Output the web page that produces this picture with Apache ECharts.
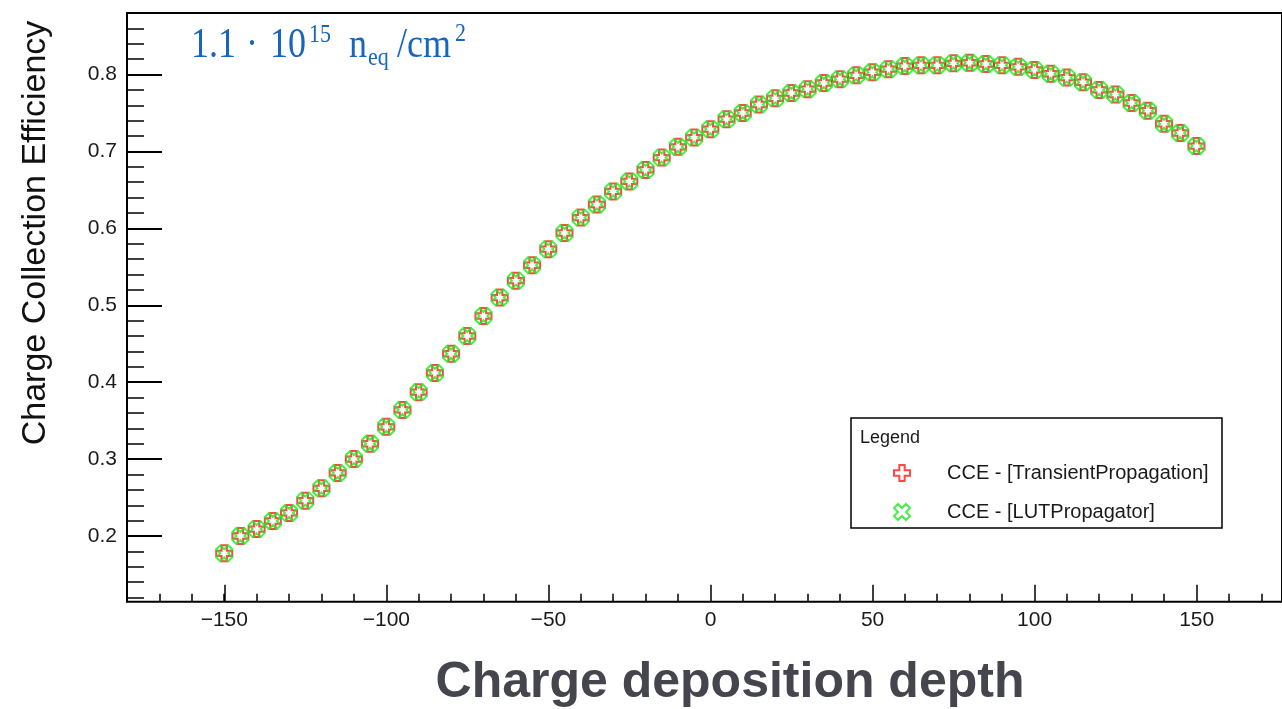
<!DOCTYPE html>
<html><head><meta charset="utf-8">
<script src="https://cdn.jsdelivr.net/npm/echarts@6/dist/echarts.min.js"></script>
<style>html,body{margin:0;padding:0;background:#fff}#c{width:1282px;height:709px}</style>
</head><body><div id="c"></div>
<script>
// ---- data ----
const depth = [-150,-145,-140,-135,-130,-125,-120,-115,-110,-105,-100,-95,-90,-85,-80,-75,-70,-65,-60,-55,-50,-45,-40,-35,-30,-25,-20,-15,-10,-5,0,5,10,15,20,25,30,35,40,45,50,55,60,65,70,75,80,85,90,95,100,105,110,115,120,125,130,135,140,145,150];
const cceTransient = [0.1775,0.200,0.209,0.2195,0.230,0.246,0.262,0.282,0.300,0.320,0.342,0.364,0.387,0.412,0.437,0.460,0.486,0.510,0.532,0.552,0.573,0.594,0.614,0.631,0.648,0.661,0.676,0.692,0.706,0.718,0.729,0.742,0.750,0.761,0.769,0.776,0.781,0.789,0.794,0.799,0.803,0.807,0.811,0.812,0.812,0.8146,0.8153,0.8137,0.812,0.810,0.806,0.801,0.796,0.790,0.780,0.774,0.763,0.753,0.736,0.724,0.707];
const cceLUT = [0.1775,0.200,0.209,0.2195,0.230,0.246,0.262,0.282,0.300,0.320,0.342,0.364,0.387,0.412,0.437,0.460,0.486,0.510,0.532,0.552,0.573,0.594,0.614,0.631,0.648,0.661,0.676,0.692,0.706,0.718,0.729,0.742,0.750,0.761,0.769,0.776,0.781,0.789,0.794,0.799,0.803,0.807,0.811,0.812,0.812,0.8146,0.8153,0.8137,0.812,0.810,0.806,0.801,0.796,0.790,0.780,0.774,0.763,0.753,0.736,0.724,0.707];
const seriesNames = ['CCE - [TransientPropagation]','CCE - [LUTPropagator]'];
const xRange = [-180, 176.4];
const xMajorRange = [-150, 150];
const yRange = [0.1146, 0.88];
const yMinorRange = [0.12, 0.88];
const yMajorRange = [0.2, 0.8];
const xTitle = 'Charge deposition depth';
const yTitle = 'Charge Collection Efficiency';

const SANS = "'Liberation Sans', Arial, Helvetica, sans-serif";
const SERIF = "'Liberation Serif', 'Times New Roman', serif";
const PLUS = 'path://M2,0L4,0L4,2L6,2L6,4L4,4L4,6L2,6L2,4L0,4L0,2L2,2Z';
const XCROSS = 'path://M4.243,0L5.657,1.414L4.243,2.828L5.657,4.243L4.243,5.657L2.828,4.243L1.414,5.657L0,4.243L1.414,2.828L0,1.414L1.414,0L2.828,1.414Z';
const RED = '#ff1a1a', GREEN = '#1ee81e';
const BLUE = '#1666c0';

const chart = echarts.init(document.getElementById('c'), null, {renderer:'canvas'});
const tickStyle = (len, w) => ({show:true, inside:true, length:len, lineStyle:{color:'#000', width:w}});
const lbl = {color:'#1a1a1a', fontFamily:SANS, fontSize:21};

function txt(x, y, s, size, sy, color, family) {
  return {type:'text', x:x, y:y, scaleY:sy||1, z:10,
    style:{text:s, fill:color, font: size + 'px ' + family, align:'left', verticalAlign:'middle'}};
}

const option = {
  animation:false,
  backgroundColor:'#fff',
  grid:[
    {left:127, right:0, top:13, bottom:107.3, show:true, borderColor:'#000', borderWidth:2, backgroundColor:'rgba(0,0,0,0)'},
    {left:127, right:0, top:13, bottom:107.3},
    {left:224.3, right:85.3, top:13, bottom:107.3},
    {left:127, right:0, top:13, bottom:111.4},
    {left:127, right:0, top:74.5, bottom:173}
  ],
  xAxis:[
    {gridIndex:0, type:'value', min:xRange[0], max:xRange[1], axisLine:{show:false}, axisTick:{show:false}, axisLabel:{show:false}, splitLine:{show:false}},
    {gridIndex:1, type:'value', min:xRange[0], max:xRange[1], interval:10, axisLine:{show:false}, axisTick:tickStyle(8,1.5), axisLabel:{show:false}, splitLine:{show:false}},
    {gridIndex:2, type:'value', min:xMajorRange[0], max:xMajorRange[1], interval:50, axisLine:{show:false}, axisTick:tickStyle(17,1.5),
      axisLabel:Object.assign({margin:8, formatter:v=>String(v).replace('-','\u2212')}, lbl), splitLine:{show:false}},
    {gridIndex:3, type:'value', show:false, min:0, max:1},
    {gridIndex:4, type:'value', show:false, min:0, max:1}
  ],
  yAxis:[
    {gridIndex:0, type:'value', min:yRange[0], max:yRange[1], axisLine:{show:false}, axisTick:{show:false}, axisLabel:{show:false}, splitLine:{show:false}},
    {gridIndex:1, type:'value', show:false, min:0, max:1},
    {gridIndex:2, type:'value', show:false, min:0, max:1},
    {gridIndex:3, type:'value', min:yMinorRange[0], max:yMinorRange[1], interval:0.02, axisLine:{show:false}, axisTick:tickStyle(17,1.5), axisLabel:{show:false}, splitLine:{show:false}},
    {gridIndex:4, type:'value', min:yMajorRange[0], max:yMajorRange[1], interval:0.1, axisLine:{show:false}, axisTick:tickStyle(35,2),
      axisLabel:Object.assign({margin:10, formatter:v=>v.toFixed(1)}, lbl), splitLine:{show:false}}
  ],
  legend:{
    orient:'vertical', left:893, top:463, padding:0, itemGap:19, itemWidth:16, itemHeight:16,
    textStyle:{color:'#1a1a1a', fontFamily:SANS, fontSize:20, padding:[0,0,0,32]},
    selectedMode:false,
    data:[
      {name:seriesNames[0], icon:PLUS, itemStyle:{color:'rgba(0,0,0,0)', borderColor:RED, borderWidth:2}},
      {name:seriesNames[1], icon:XCROSS, itemStyle:{color:'rgba(0,0,0,0)', borderColor:GREEN, borderWidth:2}}
    ]
  },
  series:[
    {name:seriesNames[0], type:'scatter', xAxisIndex:0, yAxisIndex:0, symbol:PLUS, symbolSize:16,
      itemStyle:{color:'rgba(0,0,0,0)', borderColor:RED, borderWidth:2}, emphasis:{disabled:true},
      data:depth.map((x,i)=>[x, cceTransient[i]])},
    {name:seriesNames[1], type:'scatter', xAxisIndex:0, yAxisIndex:0, symbol:XCROSS, symbolSize:16,
      itemStyle:{color:'rgba(0,0,0,0)', borderColor:GREEN, borderWidth:2}, emphasis:{disabled:true},
      data:depth.map((x,i)=>[x, cceLUT[i]])}
  ],
  graphic:[
    {type:'text', x:36, y:233, rotation:Math.PI/2, z:10,
      style:{text:yTitle, fill:'#111', font:'34px ' + SANS, align:'center', verticalAlign:'middle'}},
    {type:'text', x:730, y:683, z:10,
      style:{text:xTitle, fill:'#45454d', font:'bold 50px ' + SANS, align:'center', verticalAlign:'middle'}},
    txt(191, 46, '1.1', 36, 1.15, BLUE, SERIF),
    txt(246, 46, '\u00b7', 36, 1.15, BLUE, SERIF),
    txt(270, 46, '10', 36, 1.15, BLUE, SERIF),
    txt(309, 36, '15', 22, 1.1, BLUE, SERIF),
    txt(349, 46, 'n', 36, 1.15, BLUE, SERIF),
    txt(368, 59, 'eq', 22, 1.1, BLUE, SERIF),
    txt(397, 46, '/cm', 36, 1.15, BLUE, SERIF),
    txt(455, 35, '2', 22, 1.1, BLUE, SERIF),
    {type:'rect', shape:{x:851, y:418, width:371, height:110}, z:1,
      style:{fill:'#fff', stroke:'#000', lineWidth:1.5}},
    {type:'text', x:860, y:438, z:10, style:{text:'Legend', fill:'#1a1a1a', font:'18px ' + SANS, align:'left', verticalAlign:'middle'}}
  ]
};
chart.setOption(option);
</script>
</body></html>
